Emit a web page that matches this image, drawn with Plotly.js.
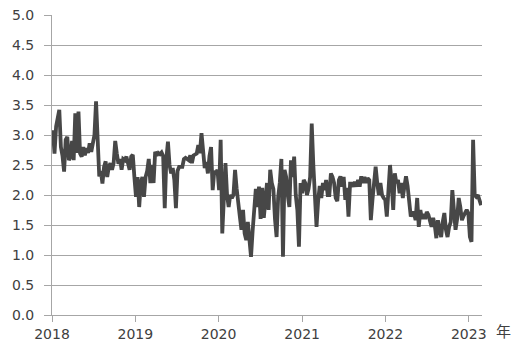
<!DOCTYPE html>
<html>
<head>
<meta charset="utf-8">
<script src="https://cdn.plot.ly/plotly-3.0.1.min.js"></script>
<style>html,body{margin:0;padding:0;background:#fff;}#chart{width:529px;height:357px;}</style>
</head>
<body>
<div id="chart"></div>
<script>
// Weekly values
var startDate = '2018-01-05';
var values2018 = [3.08,2.69,3.14,3.3,3.42,2.8,2.65,2.39,2.92,2.97,2.58,2.64,2.9,2.58,3.36,2.7,3.39,2.69,2.64,2.8,2.66,2.78,2.7,2.86,2.72,2.86,3.0,3.56,2.92,2.31,2.4,2.19,2.47,2.56,2.3,2.47,2.53,2.42,2.53,2.9,2.69,2.52,2.6,2.42,2.6,2.58,2.64,2.5,2.42,2.64,2.67,2.3];
var values2019 = [1.97,2.3,1.8,2.2,2.3,1.97,2.3,2.4,2.6,2.2,2.5,2.2,2.72,2.66,2.7,2.68,2.71,2.65,1.78,2.6,2.89,2.5,2.36,2.45,2.25,1.78,2.4,2.47,2.47,2.47,2.6,2.62,2.6,2.58,2.66,2.53,2.66,2.68,2.69,2.83,2.7,3.03,2.72,2.45,2.55,2.36,2.65,2.8,2.08,2.4,2.35,2.42];
var values2020 = [2.08,2.92,1.36,2.1,2.53,2.0,1.8,2.0,1.95,2.0,2.42,2.11,1.8,1.64,1.42,1.75,1.36,1.25,1.55,1.14,0.97,1.4,1.7,2.1,1.8,2.14,1.6,2.12,1.62,1.95,2.2,1.75,2.42,2.2,2.1,1.6,1.3,1.97,2.2,2.6,0.97,2.42,2.3,2.0,1.8,2.58,2.3,2.64,2.0,1.75,1.14,2.2];
var values2021 = [2.03,2.25,2.2,2.0,2.1,2.3,3.19,2.5,2.1,1.47,1.9,2.15,1.95,2.2,2.08,2.25,2.0,2.0,2.36,2.3,2.2,1.95,1.9,2.25,2.31,2.14,2.3,1.92,2.12,1.64,2.19,2.19,2.14,2.22,2.14,2.25,2.14,2.31,2.2,2.3,2.2,2.28,2.25,1.58,1.92,2.2,2.47,2.2,2.0,2.2,2.0,1.95];
var values2022 = [1.92,1.64,2.1,2.5,2.2,1.75,2.36,2.2,2.25,2.03,2.2,1.95,2.14,2.31,2.15,1.95,1.64,1.7,1.7,1.58,1.95,1.47,1.75,1.6,1.68,1.6,1.72,1.67,1.58,1.47,1.62,1.5,1.28,1.58,1.42,1.3,1.55,1.7,1.42,1.3,1.47,1.55,2.08,1.75,1.42,1.6,1.95,1.8,1.58,1.65,1.7,1.75];
var values2023 = [1.7,1.3,1.22,2.92,2.0,1.97,2.0,1.9,1.83];
var yearLabels = ['2018','2019','2020','2021','2022','2023'];
var unitLabel = '年';

var values = [].concat(values2018, values2019, values2020, values2021, values2022, values2023);
var dates = [];
var d0 = new Date(startDate + 'T00:00:00Z');
for (var i = 0; i < values.length; i++) {
  var d = new Date(d0.getTime() + i * 7 * 86400000);
  dates.push(d.toISOString().slice(0, 10));
}

var textColor = '#404040';
var gridColor = '#a6a6a6';
var font = {family: 'DejaVu Sans, sans-serif', size: 14, color: textColor};

var trace = {
  x: dates, y: values, type: 'scatter', mode: 'lines',
  line: {color: '#474747', width: 3.8}, hoverinfo: 'skip'
};

var layout = {
  width: 529, height: 357,
  margin: {l: 52, r: 47, t: 15, b: 42},
  paper_bgcolor: '#fff', plot_bgcolor: '#fff',
  showlegend: false,
  font: font,
  xaxis: {
    type: 'date',
    range: ['2018-01-01', '2023-02-28'],
    tickvals: yearLabels.map(function (y) { return y + '-01-01'; }),
    ticktext: yearLabels,
    showgrid: false, zeroline: false,
    showline: true, linecolor: gridColor, linewidth: 1,
    ticks: 'outside', ticklen: 6, tickcolor: gridColor, tickwidth: 1,
    tickfont: font
  },
  yaxis: {
    range: [0, 5], dtick: 0.5, tick0: 0, tickformat: '.1f',
    showgrid: true, gridcolor: gridColor, gridwidth: 1, zeroline: false,
    showline: true, linecolor: gridColor, linewidth: 1,
    ticks: 'outside', ticklen: 7, tickcolor: gridColor, tickwidth: 1,
    ticklabelstandoff: 7,
    tickfont: font
  },
  annotations: [{
    text: unitLabel, xref: 'paper', yref: 'paper', x: 1.049, y: 0,
    yshift: -15, showarrow: false, xanchor: 'center', yanchor: 'middle',
    font: {family: 'Noto Sans CJK JP, sans-serif', size: 15, color: textColor}
  }]
};

Plotly.newPlot('chart', [trace], layout, {staticPlot: true, displayModeBar: false});
</script>
</body>
</html>
